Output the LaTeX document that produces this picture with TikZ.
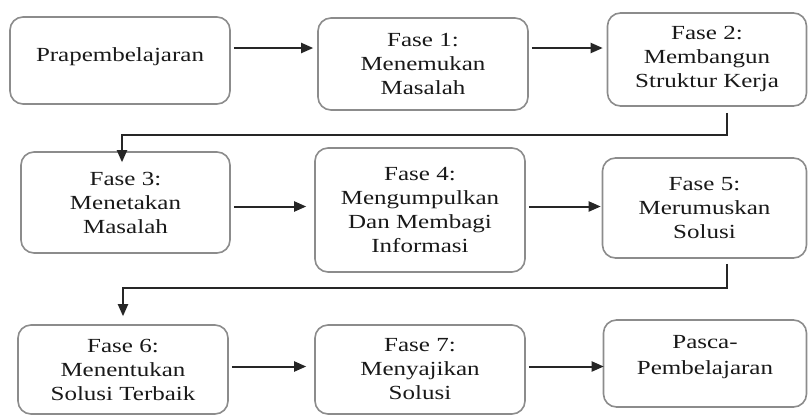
\documentclass[tikz,border=0pt]{standalone}
\usepackage{fontspec}
\setmainfont{Liberation Serif}[FakeStretch=1.25]
\usetikzlibrary{arrows.meta}

\begin{document}
\begin{tikzpicture}[x=1pt, y=-1pt,
    phase/.style={draw=black!45, line width=1.6pt, rounded corners=13pt, align=center,
      inner sep=0pt, text=black!90, font=\fontsize{20}{24}\selectfont},
    arr/.style={-{Triangle[length=12pt,width=10pt]}, line width=2pt, draw=black!85,
      shorten <=3pt, shorten >=4pt}]
    \useasboundingbox[fill=white] (0,0) rectangle (808,416);
    \node[phase, minimum width=220pt, minimum height=87pt, text depth=12.5pt] (pre) at (120,60.5) {Prapembelajaran};
    \node[phase, minimum width=210pt, minimum height=92pt] (f1) at (423,64) {Fase 1:\\Menemukan\\Masalah};
    \node[phase, minimum width=199pt, minimum height=93pt] (f2) at (707,59.5) {Fase 2:\\Membangun\\Struktur Kerja};
    \node[phase, minimum width=209pt, minimum height=101pt] (f3) at (125.5,202.5) {Fase 3:\\Menetakan\\Masalah};
    \node[phase, minimum width=210pt, minimum height=124pt] (f4) at (420,210) {Fase 4:\\Mengumpulkan\\Dan Membagi\\Informasi};
    \node[phase, minimum width=204pt, minimum height=100pt] (f5) at (704.5,208) {Fase 5:\\Merumuskan\\Solusi};
    \node[phase, minimum width=210pt, minimum height=89pt] (f6) at (123,369.5) {Fase 6:\\Menentukan\\Solusi Terbaik};
    \node[phase, minimum width=210pt, minimum height=89pt] (f7) at (420,369.5) {Fase 7:\\Menyajikan\\Solusi};
    \node[phase, minimum width=203pt, minimum height=87pt, text depth=16.5pt] (post) at (705,363.5) {Pasca-\\[2pt]Pembelajaran};

    \coordinate (r1) at (0,48);
    \coordinate (r2) at (0,206.5);
    \coordinate (r3) at (0,366.5);
    \coordinate (k1) at (727,135);
    \coordinate (k2) at (122,135);
    \coordinate (k3) at (727,288);
    \coordinate (k4) at (123,288);

    \draw[arr] (pre.east |- r1) -- (f1.west |- r1);
    \draw[arr] (f1.east |- r1) -- (f2.west |- r1);
    \draw[arr, shorten >=8pt] (f3.east |- r2) -- (f4.west |- r2);
    \draw[arr, shorten >=1pt] (f4.east |- r2) -- (f5.west |- r2);
    \draw[arr, shorten >=8pt] (f6.east |- r3) -- (f7.west |- r3);
    \draw[arr, shorten >=-1pt] (f7.east |- r3) -- (post.west |- r3);
    \draw[arr, line join=miter, shorten <=6pt, shorten >=-11pt] (f2.south -| k1) -- (k1) -- (k2) -- (f3.north -| k2);
    \draw[arr, line join=miter, shorten <=5pt, shorten >=8pt] (f5.south -| k3) -- (k3) -- (k4) -- (f6.north -| k4);
\end{tikzpicture}
\end{document}
